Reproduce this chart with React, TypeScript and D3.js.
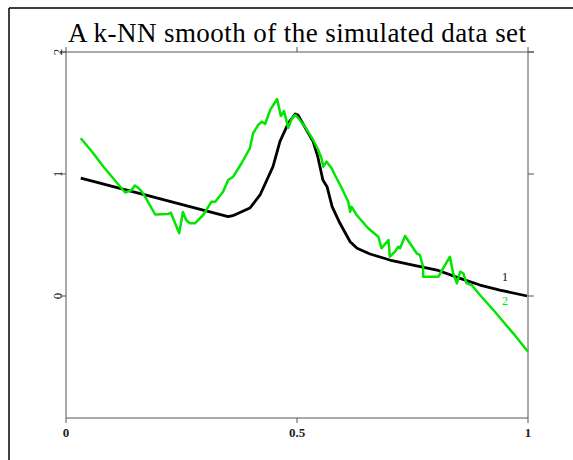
import React from "react";
import * as d3 from "d3";

const blackX = [0.032, 0.117, 0.190, 0.268, 0.351, 0.361, 0.398, 0.420, 0.448, 0.463, 0.481, 0.496, 0.502, 0.535, 0.545, 0.556, 0.565, 0.576, 0.593, 0.615, 0.630, 0.658, 0.701, 0.751, 0.803, 0.853, 0.896, 0.939, 0.998];
const blackY = [0.967, 0.883, 0.81, 0.732, 0.650, 0.658, 0.721, 0.828, 1.060, 1.265, 1.416, 1.492, 1.484, 1.265, 1.142, 0.951, 0.896, 0.732, 0.596, 0.445, 0.391, 0.344, 0.295, 0.254, 0.213, 0.145, 0.090, 0.049, 0.0];

const greenX = [0.032, 0.059, 0.081, 0.102, 0.128, 0.142, 0.149, 0.156, 0.164, 0.171, 0.193, 0.221, 0.227, 0.245, 0.253, 0.260, 0.268, 0.279, 0.297, 0.315, 0.323, 0.340, 0.351, 0.362, 0.380, 0.398, 0.405, 0.416, 0.424, 0.431, 0.442, 0.457, 0.465, 0.472, 0.481, 0.489, 0.496, 0.503, 0.517, 0.535, 0.546, 0.553, 0.557, 0.564, 0.575, 0.582, 0.597, 0.611, 0.615, 0.618, 0.629, 0.654, 0.676, 0.683, 0.698, 0.701, 0.712, 0.719, 0.723, 0.734, 0.759, 0.766, 0.773, 0.773, 0.806, 0.831, 0.838, 0.846, 0.853, 0.860, 0.867, 0.878, 0.896, 0.925, 0.968, 1.0];
const greenY = [1.293, 1.170, 1.060, 0.965, 0.848, 0.869, 0.906, 0.888, 0.855, 0.814, 0.668, 0.672, 0.683, 0.514, 0.689, 0.623, 0.596, 0.596, 0.664, 0.773, 0.773, 0.855, 0.951, 0.978, 1.088, 1.211, 1.334, 1.402, 1.429, 1.410, 1.525, 1.615, 1.475, 1.516, 1.377, 1.457, 1.484, 1.457, 1.388, 1.279, 1.197, 1.129, 1.060, 1.101, 1.047, 0.992, 0.883, 0.773, 0.691, 0.732, 0.664, 0.555, 0.486, 0.391, 0.459, 0.322, 0.363, 0.404, 0.391, 0.492, 0.350, 0.336, 0.240, 0.158, 0.158, 0.322, 0.186, 0.104, 0.199, 0.186, 0.104, 0.090, 0.008, -0.115, -0.306, -0.457];

const xTicks = [0, 0.5, 1];
const xTickLabels = ["0", "0.5", "1"];
const yTicks = [0, 1, 2];
const yTickLabels = ["0", "1", "2"];
const title = "A k-NN smooth of the simulated data set";
const seriesLabels = ["1", "2"];

export default function App() {
  const W = 573, H = 460;
  const x = d3.scaleLinear().domain([0, 1]).range([66, 528]);
  const y = d3.scaleLinear().domain([-1, 2]).range([418, 52]);
  const line = d3.line<[number, number]>().x(d => x(d[0])).y(d => y(d[1]));
  const black = blackX.map((v, i) => [v, blackY[i]] as [number, number]);
  const green = greenX.map((v, i) => [v, greenY[i]] as [number, number]);
  const axisColor = "#555";
  const serif = "'Liberation Serif', 'Times New Roman', serif";
  const x0 = x(0), x1 = x(1), yTop = y(2), yBot = y(-1);
  return (
    <svg width={W} height={H} style={{ position: "absolute", left: 0, top: 0, background: "#fff" }}>
      <rect x={0} y={0} width={W} height={H} fill="#fff" />
      <line x1={9} y1={8} x2={W} y2={8} stroke="#000" strokeWidth={1.5} />
      <line x1={9} y1={8} x2={9} y2={H} stroke="#000" strokeWidth={1.5} />
      <text x={297} y={42} textAnchor="middle" fontFamily={serif} fontSize={27} textLength={458} lengthAdjust="spacing" fill="#000">{title}</text>
      <line x1={x0 - 6} y1={yTop} x2={x1 + 6} y2={yTop} stroke={axisColor} />
      <line x1={x0} y1={yBot} x2={x1} y2={yBot} stroke={axisColor} />
      <line x1={x0} y1={yTop} x2={x0} y2={yBot} stroke={axisColor} />
      <line x1={x1} y1={yTop} x2={x1} y2={yBot} stroke={axisColor} />
      {xTicks.map((t, i) => (
        <g key={"xt" + i}>
          <line x1={x(t)} x2={x(t)} y1={yBot} y2={yBot + 5} stroke={axisColor} />
          <line x1={x(t)} x2={x(t)} y1={yTop} y2={yTop - 5} stroke={axisColor} />
          <text x={x(t)} y={yBot + 19} textAnchor="middle" fontFamily={serif} fontSize={13} fontWeight="bold" fill="#222">{xTickLabels[i]}</text>
        </g>
      ))}
      {yTicks.map((t, i) => (
        <g key={"yt" + i}>
          <line x1={x0} x2={x0 - 6} y1={y(t)} y2={y(t)} stroke={axisColor} />
          <line x1={x1} x2={x1 + 6} y1={y(t)} y2={y(t)} stroke={axisColor} />
          <text transform={`translate(${x0 - 4},${y(t)}) rotate(-90)`} textAnchor="middle" fontFamily={serif} fontSize={13} fill="#222">{yTickLabels[i]}</text>
        </g>
      ))}
      <path d={line(black) || ""} fill="none" stroke="#000" strokeWidth={2.8} strokeLinejoin="round" />
      <path d={line(green) || ""} fill="none" stroke="#00e600" strokeWidth={2.5} strokeLinejoin="round" />
      <text x={x(0.95)} y={y(0.12)} textAnchor="middle" fontFamily={serif} fontSize={12} fill="#000">{seriesLabels[0]}</text>
      <text x={x(0.95)} y={y(-0.07)} textAnchor="middle" fontFamily={serif} fontSize={12} fill="#00e600">{seriesLabels[1]}</text>
    </svg>
  );
}
